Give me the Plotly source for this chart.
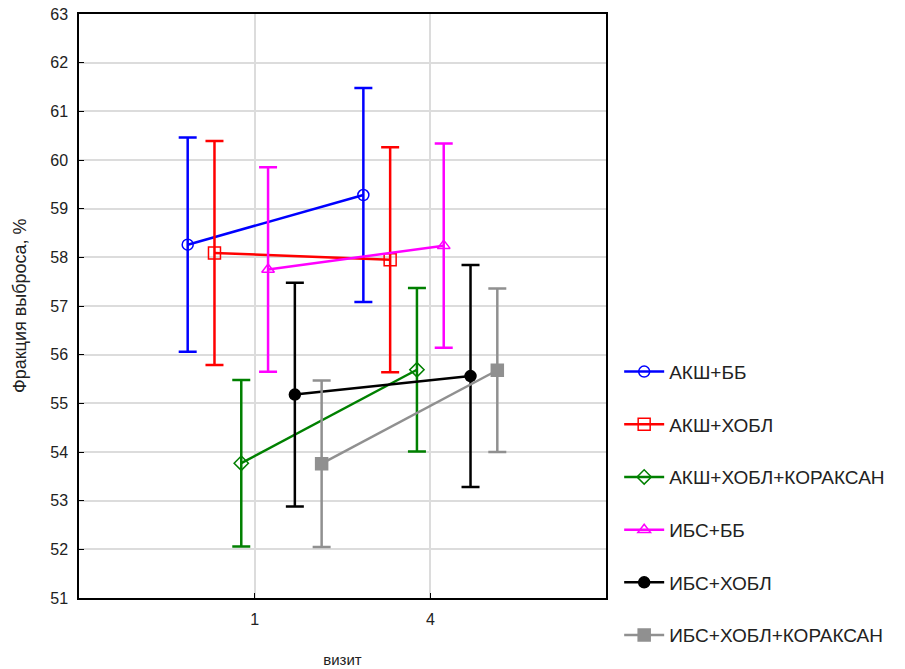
import plotly.graph_objects as go

visits = ["1", "4"]
names = ["АКШ+ББ", "АКШ+ХОБЛ", "АКШ+ХОБЛ+КОРАКСАН", "ИБС+ББ", "ИБС+ХОБЛ", "ИБС+ХОБЛ+КОРАКСАН"]
akb_mean = [58.26, 59.28]
akb_err = [2.2, 2.2]
akh_mean = [58.09, 57.95]
akh_err = [2.3, 2.31]
akhk_mean = [53.77, 55.69]
akhk_err = [1.71, 1.68]
ibb_mean = [57.75, 58.24]
ibb_err = [2.1, 2.1]
ibh_mean = [55.18, 55.56]
ibh_err = [2.3, 2.28]
ibhk_mean = [53.76, 55.68]
ibhk_err = [1.71, 1.68]

means = [akb_mean, akh_mean, akhk_mean, ibb_mean, ibh_mean, ibhk_mean]
errs = [akb_err, akh_err, akhk_err, ibb_err, ibh_err, ibhk_err]
colors = ["#0000ff", "#ff0000", "#008000", "#ff00ff", "#000000", "#909090"]
symbols = ["circle-open", "square-open", "diamond-open", "triangle-up-open", "circle", "square"]
msizes = [11, 12, 11, 11, 11, 12]

fig = go.Figure()
for i in range(6):
    fig.add_trace(go.Scatter(
        x=visits, y=means[i], name=names[i], mode="lines+markers",
        offsetgroup=str(i), legendgroup=str(i),
        line=dict(color=colors[i], width=2.5),
        marker=dict(symbol=symbols[i], size=msizes[i], color=colors[i],
                    line=dict(color=colors[i], width=1.5)),
        error_y=dict(type="data", array=errs[i], visible=True,
                     color=colors[i], thickness=2.5, width=9),
    ))

fig.update_layout(
    width=905, height=669,
    margin=dict(l=79, r=299, t=14, b=71),
    paper_bgcolor="white", plot_bgcolor="white",
    scattermode="group", scattergap=0.085,
    font=dict(family="Liberation Sans, Arial, sans-serif", size=16, color="#222"),
    legend=dict(x=1.025, xanchor="left", y=0.42, yanchor="top",
                tracegroupgap=25, font=dict(size=19), itemwidth=40),
    showlegend=True,
    annotations=[dict(text="Фракция выброса, %", xref="paper", yref="paper",
                      x=0, y=0.5, xshift=-59, xanchor="center", yanchor="middle",
                      textangle=-90, showarrow=False, font=dict(size=18))],
)
fig.update_xaxes(
    type="category", range=[-1, 2], automargin=False,
    showline=True, linecolor="black", linewidth=1.5, mirror=True,
    showgrid=True, gridcolor="#dcdcdc", gridwidth=1.5,
    ticks="inside", ticklen=5, tickcolor="black",
    ticklabelstandoff=6,
    title=dict(text="визит", font=dict(size=15), standoff=28),
)
fig.update_yaxes(
    range=[51, 63], dtick=1, automargin=False,
    showline=True, linecolor="black", linewidth=1.5, mirror=True,
    showgrid=True, gridcolor="#dcdcdc", gridwidth=1.5,
    ticks="inside", ticklen=5, tickcolor="black",
    ticklabelstandoff=6, ticklabeloverflow="allow", zeroline=False,
)

fig.write_html("out.html", config={"displayModeBar": False},
               post_script="document.body.style.margin='0';")
